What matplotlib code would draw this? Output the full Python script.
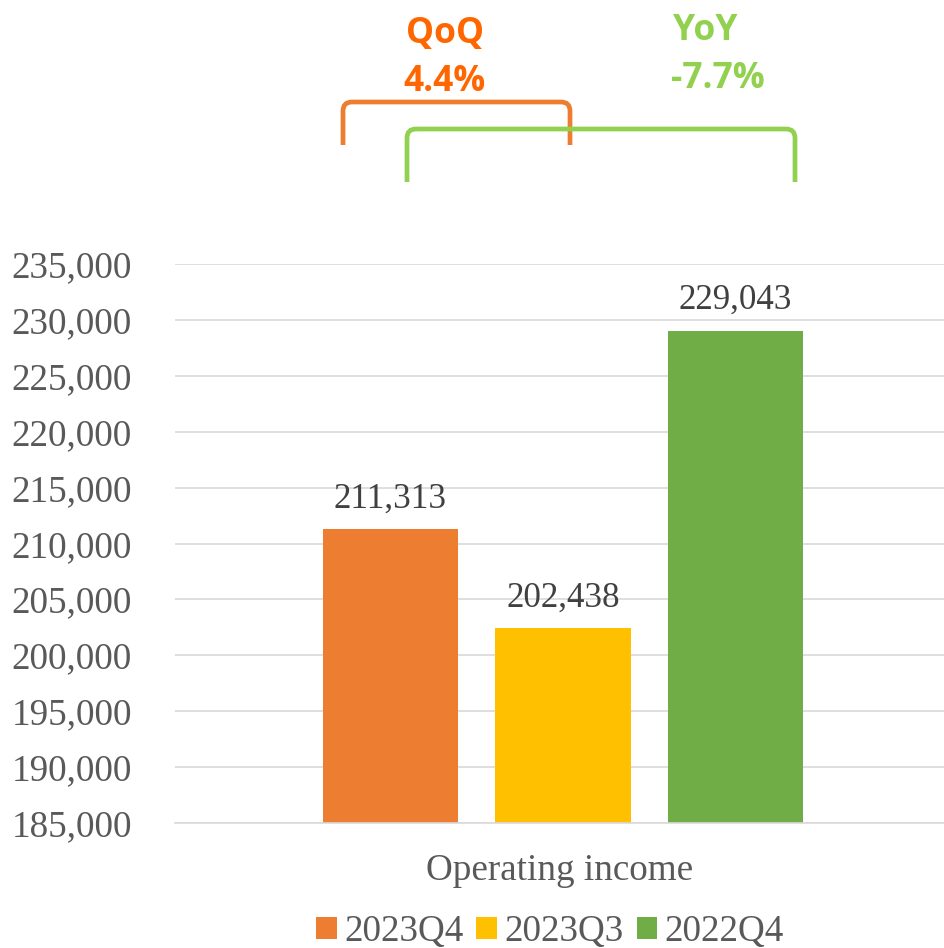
import matplotlib.pyplot as plt
from matplotlib.path import Path
from matplotlib.patches import PathPatch
from matplotlib.ticker import FuncFormatter, MultipleLocator

# -- Data --
series = ["2023Q4", "2023Q3", "2022Q4"]
values = [211313, 202438, 229043]
colors = ["#ED7D31", "#FFC000", "#70AD47"]
category = "Operating income"
qoq_label, qoq_value = "QoQ", "4.4%"
yoy_label, yoy_value = "YoY", "-7.7%"

W, H = 945, 948
fig = plt.figure(figsize=(W / 100, H / 100), dpi=100)
ax = fig.add_axes([175 / W, 1 - 823 / H, 770 / W, (823 - 264) / H])

serif = ["Liberation Serif", "DejaVu Serif"]
sans = ["Open Sans", "DejaVu Sans"]
grey = "#595959"

pos = list(range(len(values)))
bars = ax.bar(pos, values, width=0.783, color=colors, label=series, zorder=2)
for b, v in zip(bars, values):
    ax.text(b.get_x() + b.get_width() / 2, v + 1200, f"{v:,}",
            ha="center", va="bottom", fontsize=25.2, family=serif, color="#404040")

ax.set_ylim(185000, 235000)
ax.set_xlim(-1.249, 3.214)
ax.yaxis.set_major_locator(MultipleLocator(5000))
ax.yaxis.set_major_formatter(FuncFormatter(lambda v, p: f"{int(v):,}"))
ax.grid(axis="y", color="#D9D9D9", lw=1.2, zorder=0)
ax.set_xticks([])
ax.tick_params(axis="y", length=0, pad=31, labelsize=26.7, labelcolor=grey)
for t in ax.get_yticklabels():
    t.set_family(serif)
for s in ["top", "left", "right"]:
    ax.spines[s].set_visible(False)
ax.spines["bottom"].set_color("#D9D9D9")
ax.spines["bottom"].set_linewidth(1.2)

ax.set_xlabel(category, fontsize=26.7, family=serif, color=grey, labelpad=22)

fig.legend(handles=bars, labels=series, loc="center", ncol=3,
           bbox_to_anchor=(550 / W, 1 - 932 / H), frameon=False,
           prop={"family": serif, "size": 26.7}, labelcolor=grey,
           handlelength=0.55, handleheight=0.55, handletextpad=0.2,
           columnspacing=0.35)


def bracket(x0, x1, ytop, ybot, color):
    r = 9
    verts = [(x0, ybot), (x0, ytop + r), (x0, ytop), (x0 + r, ytop),
             (x1 - r, ytop), (x1, ytop), (x1, ytop + r), (x1, ybot)]
    codes = [Path.MOVETO, Path.LINETO, Path.CURVE3, Path.CURVE3,
             Path.LINETO, Path.CURVE3, Path.CURVE3, Path.LINETO]
    verts = [(x / W, 1 - y / H) for x, y in verts]
    fig.add_artist(PathPatch(Path(verts, codes), fill=False, ec=color,
                             lw=3.4, transform=fig.transFigure,
                             capstyle="butt"))


bracket(343, 570, 102, 145, "#ED7D31")
bracket(407, 795, 129, 182, "#92D050")

fig.text(445 / W, 1 - 34 / H, qoq_label, ha="center", va="center",
         fontsize=25.5, fontweight="bold", family=sans, color="#FF6600")
fig.text(445 / W, 1 - 82 / H, qoq_value, ha="center", va="center",
         fontsize=25.5, fontweight="bold", family=sans, color="#FF6600")
fig.text(705 / W, 1 - 31 / H, yoy_label, ha="center", va="center",
         fontsize=25.5, fontweight="bold", family=sans, color="#92D050")
fig.text(718 / W, 1 - 79 / H, yoy_value, ha="center", va="center",
         fontsize=25.5, fontweight="bold", family=sans, color="#92D050")

fig.savefig("out.png", dpi=100)
